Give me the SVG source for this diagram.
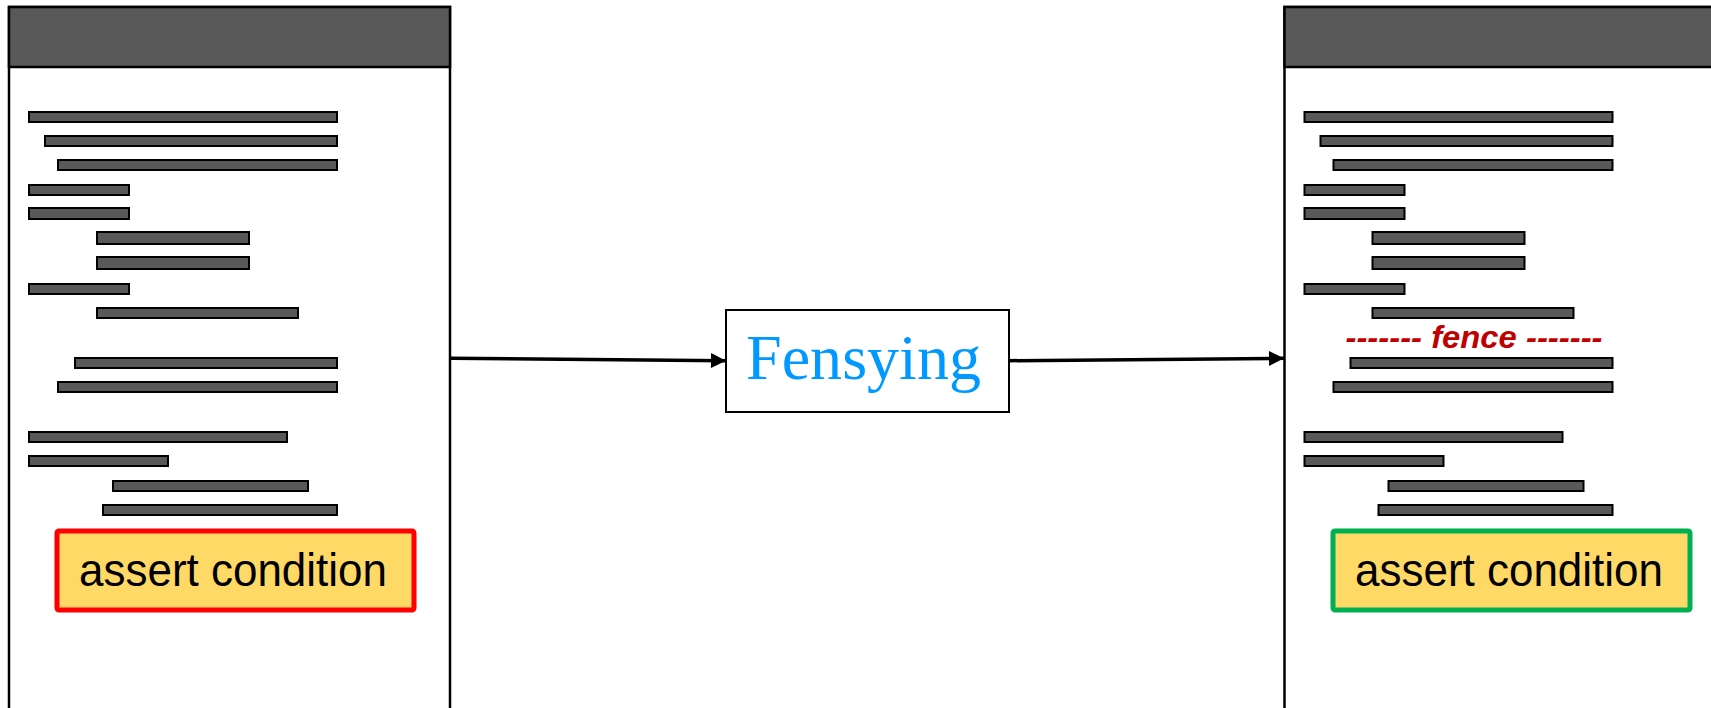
<svg xmlns="http://www.w3.org/2000/svg" width="1711" height="708" viewBox="0 0 1711 708">
<style>
.panel{fill:#fff;stroke:#000;stroke-width:2.5}
.hdr{fill:#595959;stroke:#000;stroke-width:2.5}
.bar{fill:#595959;stroke:#000;stroke-width:2}
.assert{fill:#FFD966;stroke-width:5}
.atext{font-family:"Liberation Sans",Arial,sans-serif;font-size:47px;fill:#000}
.conn{stroke:#000;stroke-width:3.5;fill:none}
</style>
<defs>
<marker id="ah" viewBox="0 0 10 10" refX="10" refY="5" markerWidth="16" markerHeight="15" markerUnits="userSpaceOnUse" orient="auto">
<path d="M0,0 L10,5 L0,10 z" fill="#000"/>
</marker>
<g id="bars">
<rect class="bar" x="29" y="112" width="308" height="10"/>
<rect class="bar" x="45" y="136" width="292" height="10"/>
<rect class="bar" x="58" y="160" width="279" height="10"/>
<rect class="bar" x="29" y="185" width="100" height="10"/>
<rect class="bar" x="29" y="208" width="100" height="11"/>
<rect class="bar" x="97" y="232" width="152" height="12"/>
<rect class="bar" x="97" y="257" width="152" height="12"/>
<rect class="bar" x="29" y="284" width="100" height="10"/>
<rect class="bar" x="97" y="308" width="201" height="10"/>
<rect class="bar" x="75" y="358" width="262" height="10"/>
<rect class="bar" x="58" y="382" width="279" height="10"/>
<rect class="bar" x="29" y="432" width="258" height="10"/>
<rect class="bar" x="29" y="456" width="139" height="10"/>
<rect class="bar" x="113" y="481" width="195" height="10"/>
<rect class="bar" x="103" y="505" width="234" height="10"/>
</g>
</defs>
<rect width="1711" height="708" fill="#fff"/>

<g id="source-code">
<rect class="panel" x="9" y="7" width="441" height="720"/>
<rect class="hdr" x="9" y="7" width="441" height="60"/>
<use href="#bars"/>
<g id="assert-failing">
<rect class="assert" x="57" y="531" width="357" height="79" stroke="#FF0000" rx="2"/>
<text class="atext" x="79" y="586" textLength="308" lengthAdjust="spacingAndGlyphs">assert condition</text>
</g>
</g>

<g id="fensying">
<rect x="726" y="310" width="283" height="102" fill="#fff" stroke="#000" stroke-width="2"/>
<text x="746" y="379" font-family="Liberation Serif,'Times New Roman',serif" font-size="64" fill="#0099FF" textLength="235" lengthAdjust="spacingAndGlyphs">Fensying</text>
</g>

<g id="fenced-code">
<rect class="panel" x="1284.5" y="7" width="460" height="720"/>
<rect class="hdr" x="1284.5" y="7" width="460" height="60"/>
<use href="#bars" transform="translate(1275.5,0)"/>
<text x="1474" y="348" text-anchor="middle" font-family="'Liberation Sans',Arial,sans-serif" font-size="31" font-weight="bold" font-style="italic" fill="#C00000" textLength="257" lengthAdjust="spacingAndGlyphs">------- fence -------</text>
<g id="assert-passing">
<rect class="assert" x="1333" y="531" width="357" height="79" stroke="#00B050" rx="2"/>
<text class="atext" x="1355" y="586" textLength="308" lengthAdjust="spacingAndGlyphs">assert condition</text>
</g>
</g>

<g id="connectors">
<line class="conn" x1="451" y1="358.3" x2="726" y2="360.7" marker-end="url(#ah)"/>
<line class="conn" x1="1009" y1="360.7" x2="1284" y2="358.3" marker-end="url(#ah)"/>
</g>
</svg>
